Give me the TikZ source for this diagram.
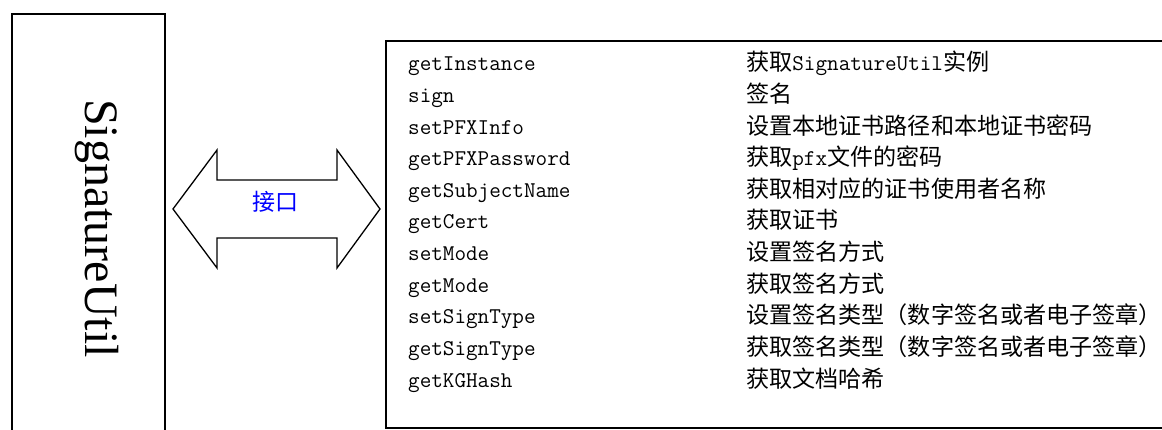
\documentclass[tikz,border=0pt]{standalone}
\usepackage{fontspec}
\setmainfont{Liberation Serif}
\newfontfamily\cjkf{Noto Sans CJK SC}
\newcommand\lat[1]{{\ttfamily\fontsize{22.5}{24}\selectfont #1}}
\tikzset{
  frame/.style={line width=1.5pt, line join=miter},
  mname/.style={anchor=base west, inner sep=0pt, font=\ttfamily\fontsize{22.5}{24}\selectfont},
  mdesc/.style={anchor=base west, inner sep=0pt, font=\cjkf\fontsize{23.1}{24}\selectfont},
}
\begin{document}
\begin{tikzpicture}[x=1pt,y=-1pt]
\useasboundingbox[fill=white] (0,0) rectangle (1162,430);
% left class box (open at the bottom edge)
\draw[frame] (12,432) -- (12,14) -- (165,14) -- (165,432);
\node[rotate=-90, anchor=base, inner sep=0pt, font=\fontsize{48}{50}\selectfont] (util) at (85,228.5) {SignatureUtil};
% right table box (open at the right edge)
\draw[frame] (1164,41) -- (386,41) -- (386,428) -- (1164,428);
% double arrow
\coordinate (ltip) at (173,209);
\coordinate (rtip) at (380,209);
\draw[line width=1.3pt, line join=miter] (ltip) -- (217,150) -- (217,180) -- (337,180) -- (337,150) -- (rtip)
  -- (337,268) -- (337,238) -- (217,238) -- (217,268) -- cycle;
\node[text=blue, inner sep=0pt, font=\cjkf\fontsize{23}{24}\selectfont] (iface) at (275,202) {接口};
% rows
\foreach \n/\d [count=\i from 0] in {
  getInstance/{获取\lat{SignatureUtil}实例},
  sign/{签名},
  setPFXInfo/{设置本地证书路径和本地证书密码},
  getPFXPassword/{获取\lat{pfx}文件的密码},
  getSubjectName/{获取相对应的证书使用者名称},
  getCert/{获取证书},
  setMode/{设置签名方式},
  getMode/{获取签名方式},
  setSignType/{设置签名类型（数字签名或者电子签章）},
  getSignType/{获取签名类型（数字签名或者电子签章）},
  getKGHash/{获取文档哈希}}{
  \node[mname] (m\i) at (408,{71+31.6*\i}) {\n};
  \node[mdesc] (d\i) at (746,{71+31.6*\i}) {\d};
}
\end{tikzpicture}
\end{document}
